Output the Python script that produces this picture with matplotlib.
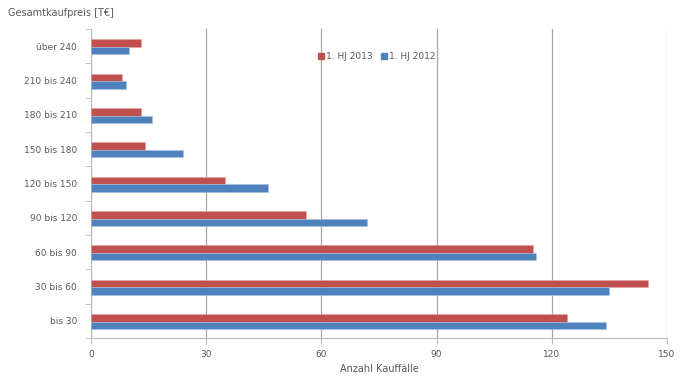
import numpy as np
import matplotlib
matplotlib.use("Agg")
import matplotlib.pyplot as plt
from matplotlib.lines import Line2D

categories = ["bis 30", "30 bis 60", "60 bis 90", "90 bis 120", "120 bis 150",
              "150 bis 180", "180 bis 210", "210 bis 240", "über 240"]
hj2013 = [124, 145, 115, 56, 35, 14, 13, 8, 13]
hj2012 = [134, 135, 116, 72, 46, 24, 16, 9, 10]
xticks = [0, 30, 60, 90, 120, 150]

red = "#C0504D"
blue = "#4F81BD"
txt = "#595959"

fig = plt.figure(figsize=[6.91, 3.82], dpi=100)
ax = fig.add_axes([0.1317, 0.1152, 0.8336, 0.8088])

y = np.arange(len(categories))
h = 0.22
ax.barh(y + 0.09, hj2013, height=h, color=red, edgecolor="#E6A4A2", linewidth=0.4, zorder=3)
ax.barh(y - 0.13, hj2012, height=h, color=blue, edgecolor="#A7C0E0", linewidth=0.4, zorder=3)

ax.set_xlim(0, 150)
ax.set_ylim(-0.5, len(categories) - 0.5)
ax.set_xticks(xticks)
ax.set_xticklabels([str(v) for v in xticks], fontsize=6.5, color=txt)
ax.set_yticks(y)
ax.set_yticklabels(categories, fontsize=6.5, color=txt)
ax.set_yticks(np.arange(len(categories) + 1) - 0.5, minor=True)
ax.tick_params(axis="y", which="major", length=0, pad=10)
ax.tick_params(axis="y", which="minor", length=4, color="#BBBBBB", direction="out")
ax.tick_params(axis="x", length=4, color="#BBBBBB", direction="out", pad=5)

ax.grid(axis="x", color="#A6A6A6", linewidth=0.9, zorder=0)
for s in ["top", "right"]:
    ax.spines[s].set_visible(False)
ax.spines["left"].set_color("#BBBBBB")
ax.spines["bottom"].set_color("#BBBBBB")

ax.set_xlabel("Anzahl Kauffälle", fontsize=7, color=txt, labelpad=3)
fig.text(0.012, 0.965, "Gesamtkaufpreis [T€]", fontsize=7, color=txt, ha="left", va="center")

handles = [Line2D([], [], marker="s", ls="", color=red, markersize=4),
           Line2D([], [], marker="s", ls="", color=blue, markersize=4)]
fig.legend(handles, ["1. HJ 2013", "1. HJ 2012"], loc="center", bbox_to_anchor=(0.545, 0.851),
           ncol=2, frameon=False, fontsize=6.5, labelcolor=txt, handlelength=0.8,
           handletextpad=0.2, columnspacing=0.8)

fig.savefig("out.png", dpi=100)
